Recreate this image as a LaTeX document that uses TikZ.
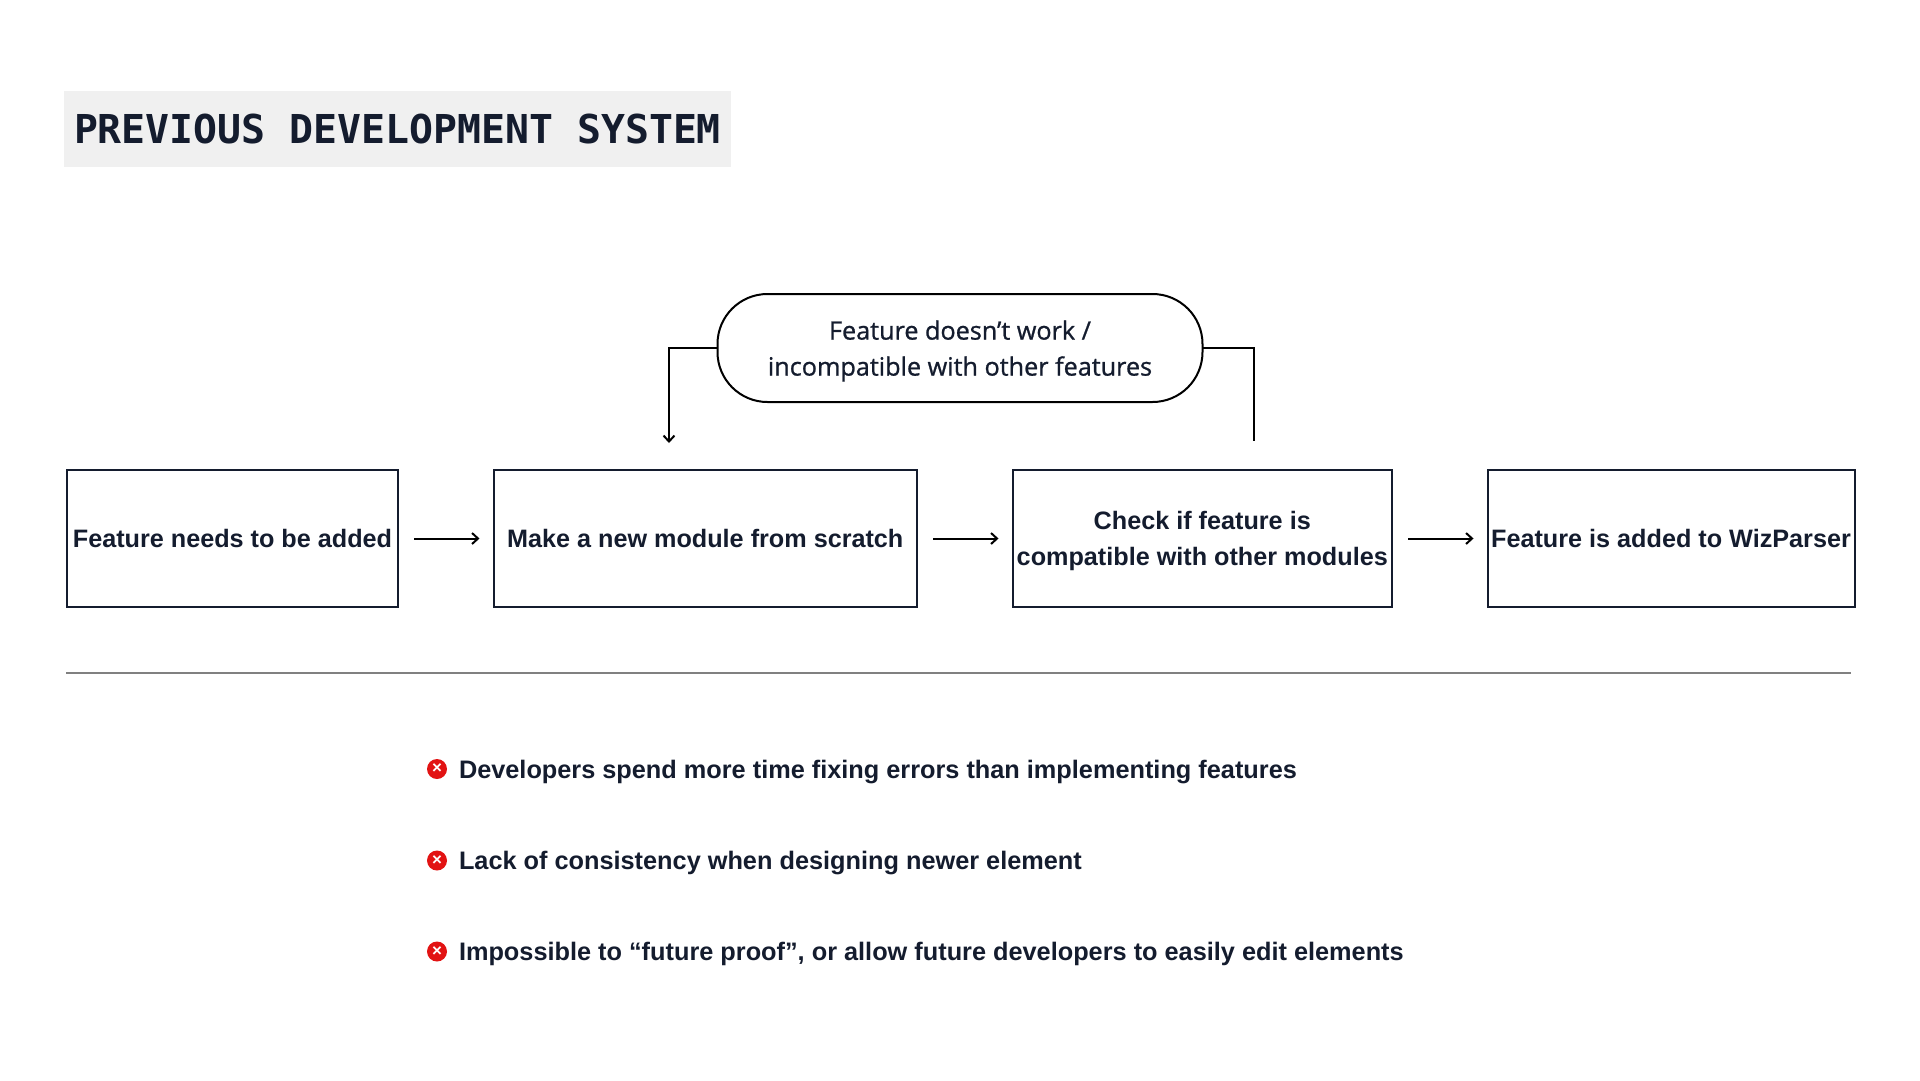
\documentclass[tikz,border=0pt]{standalone}
\usepackage{fontspec}
\usepackage{xcolor}
\usetikzlibrary{arrows.meta, positioning, calc}
\setmainfont{Liberation Sans}
\setmonofont{DejaVu Sans Mono}
\newfontfamily\pillfont[FakeBold=0.9]{Open Sans}
\definecolor{ink}{HTML}{141C2E}
\definecolor{titlebg}{HTML}{F0F0F0}
\definecolor{rulegray}{HTML}{808080}
\definecolor{crossred}{HTML}{E21313}

\begin{document}
\begin{tikzpicture}[
  x=1pt, y=-1pt,
  >={Straight Barb[length=6pt, width=11pt]},
  node distance=95.5pt,
  every node/.style={text=ink, inner sep=0pt, outer sep=0pt},
  stage/.style={draw=ink, line width=2pt, minimum height=137pt, align=center, text depth=0pt,
                font=\bfseries\fontsize{25.2}{36}\selectfont},
  pill/.style={draw=black, line width=2pt, rounded corners=50pt, fill=white,
               minimum width=485pt, minimum height=108pt, align=center, text depth=0pt,
               font=\pillfont\fontsize{25.2}{36}\selectfont},
  flow/.style={->, line width=2pt, color=black, shorten <=16pt, shorten >=14pt},
  loopline/.style={line width=2pt, color=black},
  bad/.style={circle, fill=crossred, text=white, minimum size=20pt,
              font=\bfseries\fontsize{17}{17}\selectfont},
  note/.style={anchor=west, text depth=0pt, font=\bfseries\fontsize{25.3}{30}\selectfont}
]
  \useasboundingbox (0,0) rectangle (1920,1080);

  % title
  \node[fill=titlebg, minimum width=667pt, minimum height=76pt] (title) at (397.5,129)
       {\ttfamily\bfseries\fontsize{39.8}{40}\selectfont PREVIOUS DEVELOPMENT SYSTEM};

  % stages
  \node[stage, minimum width=331pt, anchor=west] (needed) at (67,538.5) {Feature needs to be added};
  \node[stage, minimum width=423.5pt, right=of needed] (module) {Make a new module from scratch};
  \node[stage, minimum width=379.5pt, right=of module] (check) {Check if feature is\\compatible with other modules};
  \node[stage, minimum width=367pt, right=of check] (added) {Feature is added to WizParser};
  \node[pill] (fail) at (960,348) {Feature doesn’t work /\\incompatible with other features};

  \coordinate (backin) at (669,443);
  \coordinate (fromcheck) at (1254,441);

  \draw[flow] (needed) -- (module);
  \draw[flow] (module) -- (check);
  \draw[flow] (check)  -- (added);
  \draw[loopline, ->] (fail.west) -| (backin);
  \draw[loopline] (fail.east) -| (fromcheck);

  % divider
  \coordinate (ruleleft) at (66,673);
  \coordinate (ruleright) at (1851,673);
  \draw[rulegray, line width=1.6pt] (ruleleft) -- (ruleright);

  % problems
  \node[bad] (crossa) at (437,769) {×};
  \node[bad] (crossb) at (437,860.5) {×};
  \node[bad] (crossc) at (437,951.5) {×};
  \node[note, right=12pt of crossa] (notea) {Developers spend more time fixing errors than implementing features};
  \node[note, right=12pt of crossb] (noteb) {Lack of consistency when designing newer element};
  \node[note, right=12pt of crossc] (notec) {Impossible to “future proof”, or allow future developers to easily edit elements};
\end{tikzpicture}
\end{document}
